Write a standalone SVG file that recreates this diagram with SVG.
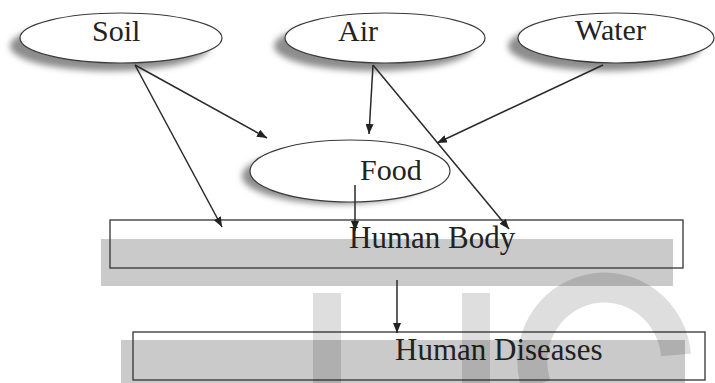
<svg xmlns="http://www.w3.org/2000/svg" width="715" height="383" viewBox="0 0 715 383">
<style>
.ell{fill:#fff;stroke:#3a3a3a;stroke-width:1.2}
.shd{fill:#8c8c8c;filter:url(#blur)}
.lbl{font-family:"Liberation Serif","Times New Roman",serif;font-size:30px;fill:#222}
.box{fill:none;stroke:#333;stroke-width:1.3}
.band{fill:#cacaca}
.con{stroke:#2a2a2a;stroke-width:1.5;fill:none;marker-end:url(#ah)}
.wm{fill:#000;opacity:0.13}
</style>
<defs>
<filter id="blur" x="-20%" y="-40%" width="140%" height="180%"><feGaussianBlur stdDeviation="3"/></filter>
<marker id="ah" viewBox="0 0 10 8" refX="10" refY="4" markerWidth="10" markerHeight="8" markerUnits="userSpaceOnUse" orient="auto"><path d="M0,0 L10,4 L0,8 z" fill="#222"/></marker>
</defs>
<rect width="715" height="383" fill="#fff"/>
<g id="soil">
<ellipse class="shd" cx="110" cy="46" rx="100" ry="25"/>
<ellipse class="ell" cx="121" cy="38" rx="101" ry="25"/>
<text class="lbl" x="92" y="41">Soil</text>
</g>
<g id="air">
<ellipse class="shd" cx="374" cy="46" rx="100" ry="25"/>
<ellipse class="ell" cx="385" cy="38" rx="100" ry="25"/>
<text class="lbl" x="338" y="41">Air</text>
</g>
<g id="water">
<ellipse class="shd" cx="605" cy="46" rx="97" ry="25"/>
<ellipse class="ell" cx="616" cy="38" rx="98" ry="25"/>
<text class="lbl" x="575" y="40">Water</text>
</g>
<g id="food">
<ellipse class="shd" cx="338" cy="176" rx="96" ry="28"/>
<ellipse class="ell" cx="350" cy="171" rx="100" ry="31"/>
<text class="lbl" x="360" y="180">Food</text>
</g>
<g id="human-body">
<rect class="band" x="101" y="239" width="572" height="47"/>
<rect class="box" x="110" y="220" width="573" height="48"/>
<text class="lbl" x="349" y="248" style="font-size:31px">Human Body</text>
</g>
<g id="human-diseases">
<rect class="band" x="121" y="340" width="564" height="43"/>
<rect class="box" x="133" y="332" width="572" height="48"/>
<text class="lbl" x="395" y="360" style="font-size:31px">Human Diseases</text>
</g>
<g id="connectors">
<line class="con" x1="135" y1="65" x2="267" y2="138"/>
<line class="con" x1="135" y1="65" x2="222" y2="227"/>
<line class="con" x1="373" y1="65" x2="369" y2="134"/>
<line class="con" x1="373" y1="65" x2="509" y2="229"/>
<line class="con" x1="603" y1="65" x2="437" y2="143"/>
<line class="con" x1="355" y1="185" x2="355" y2="231"/>
<line class="con" x1="397" y1="280" x2="397" y2="333"/>
</g>
<g id="watermark">
<rect class="wm" x="313" y="293" width="28" height="90"/>
<rect class="wm" x="462" y="293" width="28" height="90"/>
<path d="M676,355 A72,74 0 1 0 536,385" stroke="#000" stroke-width="30" fill="none" opacity="0.13"/>
</g>
</svg>
